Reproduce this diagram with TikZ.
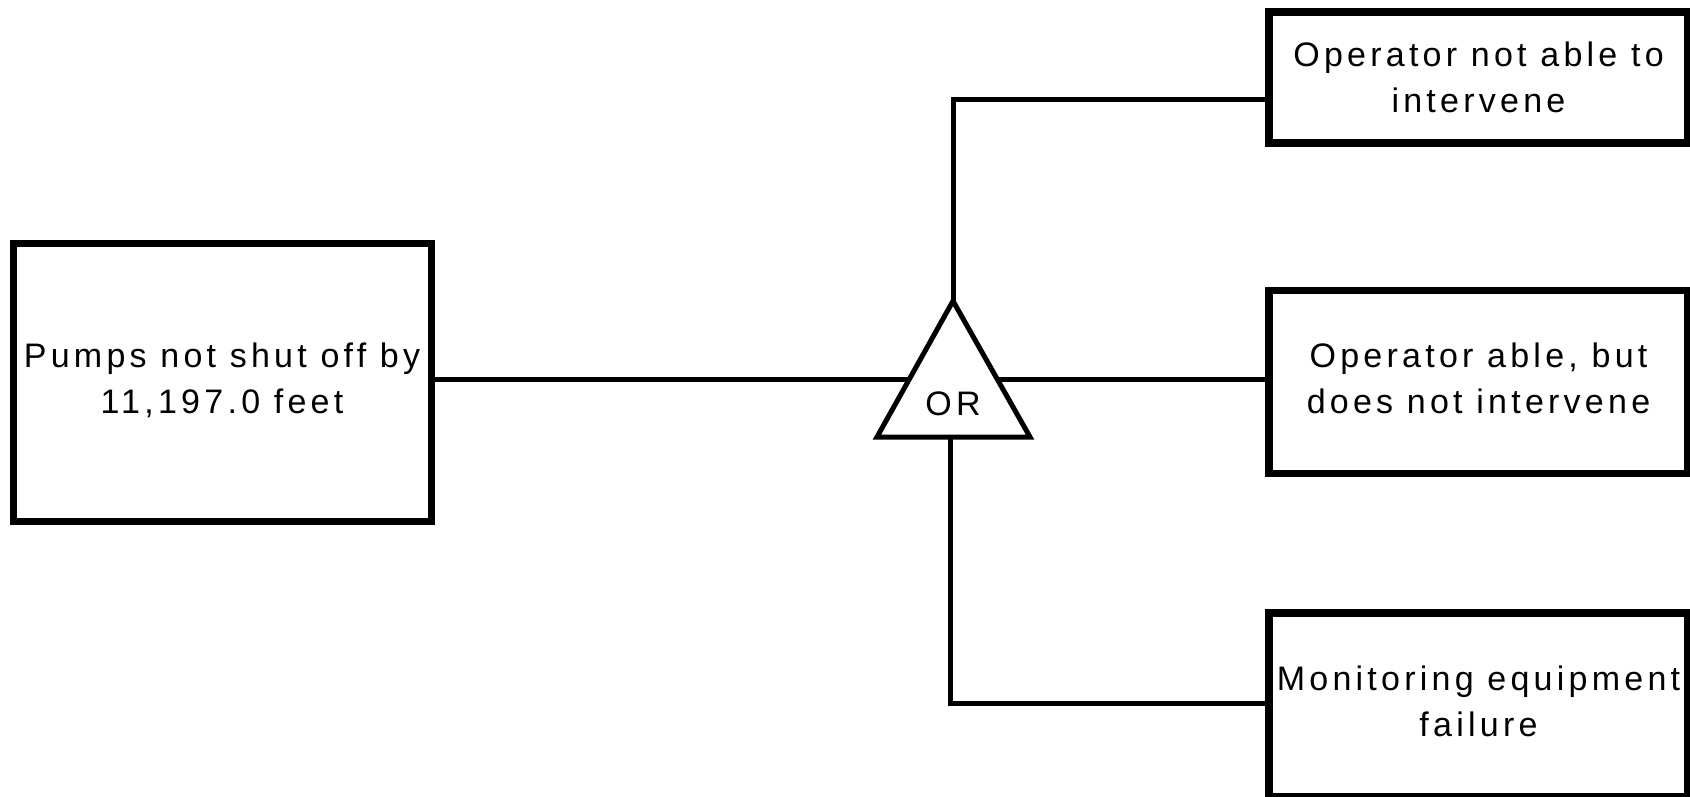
\documentclass[tikz,border=0pt]{standalone}
\usepackage{fontspec}
\newfontfamily\labfont[LetterSpace=12.5]{Liberation Sans}
\begin{document}
\begin{tikzpicture}[x=1pt,y=-1pt,
  evbox/.style={draw=black, line width=7.5pt, rectangle, inner sep=0pt, text depth=7pt,
    minimum width=419pt, align=center, font=\labfont\fontsize{34}{46}\selectfont},
  conn/.style={draw=black, line width=5pt},
  gate/.style={draw=black, line width=5pt, line join=miter}]
\useasboundingbox (0,0) rectangle (1690,797);
\node[evbox, line width=7pt, minimum width=418pt, minimum height=278pt] (pumps) at (222,382)
  {Pumps not shut off by\\11,197.0 feet};
\node[evbox, text depth=1pt, minimum height=131pt] (top) at (1478.5,77.5) {Operator not able to\\intervene};
\node[evbox, minimum height=183pt] (mid) at (1478.5,382) {Operator able, but\\does not intervene};
\node[evbox, minimum height=184pt] (bot) at (1478.5,705) {Monitoring equipment\\failure};
\coordinate (gA) at (953,301);
\coordinate (gL) at (877,437);
\coordinate (gR) at (1030,437);
\coordinate (gLin) at (909,379);
\coordinate (gRin) at (997,379);
\coordinate (gB) at (950,437);
\draw[gate] (gA) -- (gL) -- (gR) -- cycle;
\node[anchor=base, inner sep=0pt, font=\labfont\fontsize{34}{46}\selectfont] (or) at (953,415) {OR};
\draw[conn] (pumps.east |- gLin) -- (gLin);
\draw[conn] (gRin) -- (gRin -| mid.west);
\draw[conn] (gA) -- (gA |- 0,100) -- ([yshift=-22.5pt]top.west);
\draw[conn] (gB) -- (gB |- 0,703) -- (bot.west |- 0,703);
\end{tikzpicture}
\end{document}
